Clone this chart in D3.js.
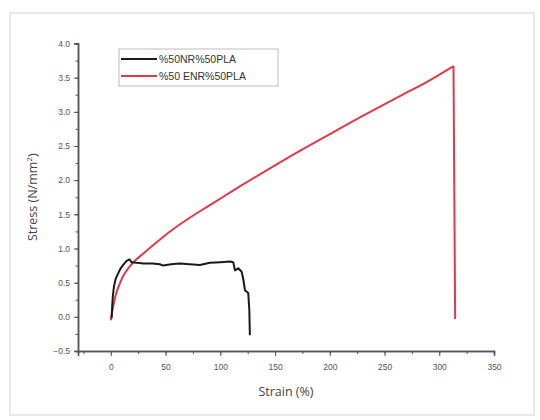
<!DOCTYPE html>
<html>
<head>
<meta charset="utf-8">
<script src="https://cdn.jsdelivr.net/npm/d3@7"></script>
<style>
  body { margin: 0; background: #fff; }
  svg text { font-family: Arial, "Liberation Sans", sans-serif; }
</style>
</head>
<body>
<svg id="chart" width="540" height="420"></svg>
<script>
// series names
const seriesNames = ["%50NR%50PLA", "%50 ENR%50PLA"];

// %50NR%50PLA  (strain %, stress N/mm2)
const nrStrain = [0.7, 1.2, 1.8, 2.8, 4.5, 6.8, 9, 11.3, 14.4, 17, 18.8, 23.5, 30, 38, 44.8, 47.8, 55, 63, 72, 81.4, 90.5, 100, 108.8, 111.8, 113.4, 116.4, 119.5, 121, 122.5, 125.5, 126.5, 127];
const nrStress = [-0.02, 0.15, 0.3, 0.44, 0.56, 0.64, 0.71, 0.76, 0.82, 0.84, 0.8, 0.79, 0.78, 0.78, 0.77, 0.75, 0.77, 0.78, 0.77, 0.76, 0.79, 0.8, 0.81, 0.8, 0.68, 0.71, 0.66, 0.55, 0.39, 0.35, 0.1, -0.27];

// %50 ENR%50PLA (rising part, then break point)
const enrStrain = [0, 1, 3, 5, 8, 11, 15, 20, 30, 41, 55, 72, 90, 102, 120, 145, 175, 203, 230, 264, 290, 313];
const enrStress = [-0.05, 0.05, 0.22, 0.35, 0.48, 0.59, 0.69, 0.79, 0.93, 1.08, 1.26, 1.45, 1.63, 1.75, 1.93, 2.17, 2.45, 2.7, 2.94, 3.23, 3.45, 3.67];
const enrBreakStrain = [313, 314.5];
const enrBreakStress = [3.67, -0.03];

const xTicks = [0, 50, 100, 150, 200, 250, 300, 350];
const yTicks = [-0.5, 0.0, 0.5, 1.0, 1.5, 2.0, 2.5, 3.0, 3.5, 4.0];

const svg = d3.select("#chart");

// outer frame
svg.append("rect")
  .attr("x", 10).attr("y", 13)
  .attr("width", 524).attr("height", 402)
  .style("fill", "#fff")
  .style("stroke", "#e2e2e2")
  .style("stroke-width", 1.5);

const x = d3.scaleLinear().domain([-30, 350]).range([78, 494]);
const y = d3.scaleLinear().domain([-0.5, 4.0]).range([351, 43.5]);

const axisColor = "#555";

// x axis
const gx = svg.append("g").attr("transform", `translate(0,${y(-0.5)})`);
gx.call(d3.axisBottom(x).tickValues(d3.range(-25, 351, 25)).tickSize(3).tickFormat(""));
const gx2 = svg.append("g").attr("transform", `translate(0,${y(-0.5)})`);
gx2.call(d3.axisBottom(x).tickValues(xTicks).tickSize(5).tickPadding(8).tickFormat(d3.format("d")));
[gx, gx2].forEach(g => {
  g.select(".domain").style("stroke", axisColor).style("stroke-width", 1.5);
  g.selectAll(".tick line").style("stroke", axisColor);
  g.selectAll("text").style("font-size", "8.5px").style("fill", "#555");
});

// y axis
const gy = svg.append("g").attr("transform", `translate(${x(-30)},0)`);
gy.call(d3.axisLeft(y).tickValues(d3.range(-0.5, 4.01, 0.25)).tickSize(2.5).tickFormat(""));
const gy2 = svg.append("g").attr("transform", `translate(${x(-30)},0)`);
gy2.call(d3.axisLeft(y).tickValues(yTicks).tickSize(4).tickPadding(4).tickFormat(d3.format(".1f")));
[gy, gy2].forEach(g => {
  g.select(".domain").style("stroke", axisColor).style("stroke-width", 1.5);
  g.selectAll(".tick line").style("stroke", axisColor);
  g.selectAll("text").style("font-size", "8.5px").style("fill", "#555");
});

// axis titles
svg.append("text")
  .attr("x", (x(-30) + x(350)) / 2).attr("y", 396)
  .attr("text-anchor", "middle")
  .style("font-family", "'Open Sans', sans-serif")
  .style("font-size", "12.5px").style("fill", "#444")
  .text("Strain (%)");

const yt = svg.append("text")
  .attr("transform", `translate(37,${(y(-0.5) + y(4)) / 2}) rotate(-90)`)
  .attr("text-anchor", "middle")
  .style("font-family", "'Open Sans', sans-serif")
  .style("font-size", "12.5px").style("fill", "#444");
yt.append("tspan").text("Stress (N/mm");
yt.append("tspan").attr("dy", -5).style("font-size", "8px").text("2");
yt.append("tspan").attr("dy", 5).text(")");

// lines
const line = d3.line().x(d => x(d[0])).y(d => y(d[1]));
const smooth = d3.line().x(d => x(d[0])).y(d => y(d[1])).curve(d3.curveMonotoneX);
const red = "#e03a4a";

svg.append("path")
  .datum(enrStrain.map((s, i) => [s, enrStress[i]]))
  .attr("d", smooth)
  .style("fill", "none")
  .style("stroke", red)
  .style("stroke-width", 2);

svg.append("path")
  .datum(enrBreakStrain.map((s, i) => [s, enrBreakStress[i]]))
  .attr("d", line)
  .style("fill", "none")
  .style("stroke", red)
  .style("stroke-width", 2)
  .style("stroke-linejoin", "round");

svg.append("path")
  .datum(nrStrain.map((s, i) => [s, nrStress[i]]))
  .attr("d", line)
  .style("fill", "none")
  .style("stroke", "#1a1a1a")
  .style("stroke-width", 2)
  .style("stroke-linejoin", "round");

// legend
const legend = svg.append("g");
legend.append("rect")
  .attr("x", 119).attr("y", 49)
  .attr("width", 159).attr("height", 37)
  .style("fill", "#fff")
  .style("stroke", "#bdbdbd");
const legColors = ["#1a1a1a", red];
seriesNames.forEach((name, i) => {
  const ly = 59 + i * 17;
  legend.append("line")
    .attr("x1", 121).attr("x2", 157)
    .attr("y1", ly).attr("y2", ly)
    .style("stroke", legColors[i]).style("stroke-width", 2);
  legend.append("text")
    .attr("x", 159).attr("y", ly + 4)
    .style("font-size", "10.5px").style("fill", "#333")
    .text(name);
});
</script>
</body>
</html>
